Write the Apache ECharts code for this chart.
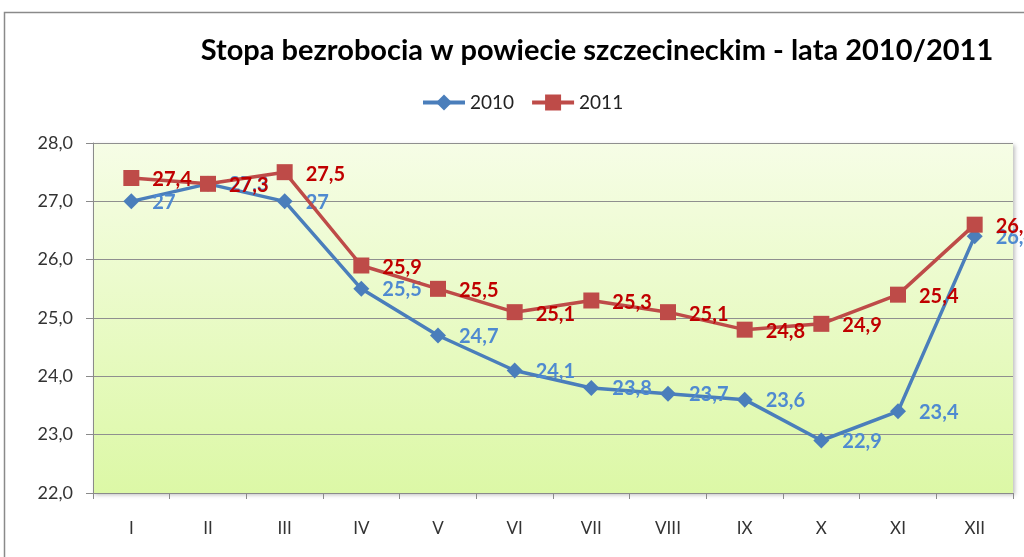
<!DOCTYPE html>
<html>
<head>
<meta charset="utf-8">
<script src="https://cdn.jsdelivr.net/npm/echarts@6/dist/echarts.min.js"></script>
<style>
html,body{margin:0;padding:0;background:#fff;}
#chart{width:1024px;height:557px;}
</style>
</head>
<body>
<div id="chart"></div>
<script>
const categories = ['I','II','III','IV','V','VI','VII','VIII','IX','X','XI','XII'];
const values2010 = [27, 27.3, 27, 25.5, 24.7, 24.1, 23.8, 23.7, 23.6, 22.9, 23.4, 26.4];
const values2011 = [27.4, 27.3, 27.5, 25.9, 25.5, 25.1, 25.3, 25.1, 24.8, 24.9, 25.4, 26.6];
const yTicks = { min: 22, max: 28, interval: 1 };
const titleText = 'Stopa bezrobocia w powiecie szczecineckim - lata 2010/2011';
const seriesNames = ['2010', '2011'];

const FONT = 'Lato';
const chart = echarts.init(document.getElementById('chart'), null, { renderer: 'canvas' });
const fmtLabel = p => String(p.value).replace('.', ',');

chart.setOption({
  animation: false,
  backgroundColor: '#fff',
  graphic: [{
    type: 'rect', z: -10,
    shape: { x: 4.5, y: 12.5, width: 1040, height: 560 },
    style: { fill: '#fff', stroke: '#8a8a8a', lineWidth: 1.5 }
  }],
  title: {
    text: titleText,
    left: 592, top: 31, textAlign: 'center',
    textStyle: { fontFamily: FONT, fontWeight: 'bold', fontSize: 29, color: '#000' }
  },
  legend: {
    top: 88, left: 416,
    itemWidth: 42, itemHeight: 20, itemGap: 16,
    textStyle: { fontFamily: FONT, fontSize: 19, color: '#222' },
    lineStyle: { width: 4 },
    data: [seriesNames[0], seriesNames[1]]
  },
  grid: {
    left: 93, right: 11, top: 143, bottom: 64,
    show: true, borderWidth: 0,
    backgroundColor: new echarts.graphic.LinearGradient(0, 0, 0, 1, [
      { offset: 0, color: '#f6fde6' },
      { offset: 1, color: '#dcf8a6' }
    ]),
    shadowColor: 'rgba(0,0,0,0.25)', shadowBlur: 4, shadowOffsetX: 2, shadowOffsetY: 2
  },
  xAxis: {
    type: 'category', data: categories, boundaryGap: true,
    axisLine: { lineStyle: { color: '#8a8a8a', width: 1 } },
    axisTick: { show: true, length: 6, alignWithLabel: false, lineStyle: { color: '#8a8a8a' } },
    axisLabel: { margin: 27, fontFamily: FONT, fontSize: 17, color: '#333' }
  },
  yAxis: {
    type: 'value', min: yTicks.min, max: yTicks.max, interval: yTicks.interval,
    axisLine: { show: true, lineStyle: { color: '#8a8a8a' } },
    axisTick: { show: true, length: 7, lineStyle: { color: '#8a8a8a' } },
    axisLabel: { margin: 20, fontFamily: FONT, fontSize: 18, color: '#333',
      formatter: v => v.toFixed(1).replace('.', ',') },
    splitLine: { lineStyle: { color: '#8f8f8f', width: 1 } }
  },
  series: [
    {
      name: seriesNames[0], type: 'line', data: values2010,
      symbol: 'diamond', symbolSize: 16,
      lineStyle: { color: '#4a7ebb', width: 3.5 },
      itemStyle: { color: '#4a7ebb' },
      label: { show: true, position: 'right', distance: 13, formatter: fmtLabel,
        fontFamily: FONT, fontSize: 20, fontWeight: 'bold', color: '#4f8ad0', offset: [0, 1] },
      z: 2
    },
    {
      name: seriesNames[1], type: 'line', data: values2011,
      symbol: 'rect', symbolSize: 16,
      lineStyle: { color: '#be4b48', width: 3.5 },
      itemStyle: { color: '#be4b48' },
      label: { show: true, position: 'right', distance: 13, formatter: fmtLabel,
        fontFamily: FONT, fontSize: 20, fontWeight: 'bold', color: '#c00000', offset: [0, 2] },
      z: 3
    }
  ]
});
</script>
</body>
</html>
